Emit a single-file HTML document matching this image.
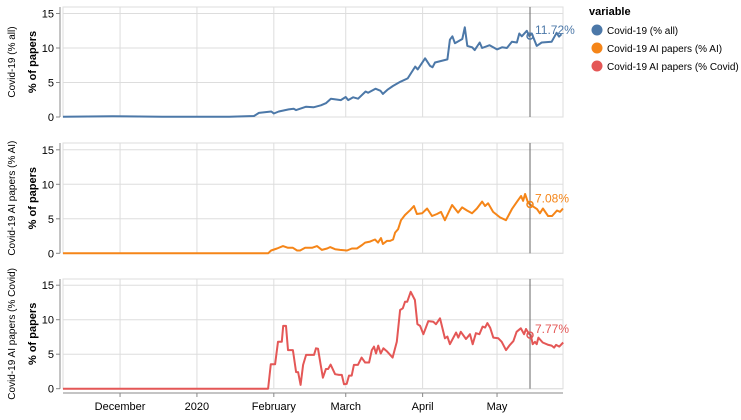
<!DOCTYPE html>
<html><head><meta charset="utf-8"><style>
body{margin:0;background:#fff;font-family:"Liberation Sans",sans-serif;}
svg text{font-family:"Liberation Sans",sans-serif;}
</style></head><body>
<svg id="chart" width="741" height="415"></svg>
<script>
// days since 2019-11-08
const blueDays=[0,20,40,67,77,79,84,85,87,91,93,94,98,101,104,106,108,112,114,115,117,119,122,123,126,128,129,131,133,136,139,142,143,146,148,149,150,155,156,157,158,161,162,163,165,166,168,169,172,175,177,179,181,183,184,185,187,188,189,191,193,197,199,200,201];
const blueVals=[0.05,0.1,0.05,0.05,0.15,0.6,0.8,0.5,0.8,1.1,1.2,1.0,1.5,1.4,1.7,2.0,2.65,2.45,2.9,2.45,2.85,2.65,3.7,3.5,4.1,3.8,3.35,4.0,4.5,5.1,5.6,7.3,6.9,8.5,7.4,7.2,7.9,8.35,11.2,11.7,10.7,11.3,13.0,10.3,10.1,9.7,10.8,10.0,10.4,9.8,10.1,10.0,10.9,10.8,12.1,11.7,12.5,11.72,12.1,10.3,10.8,10.9,12.2,11.65,12.0];
const orangeDays=[0,82.7,83.9,86.3,88.7,90.7,92.7,94.4,95.6,97.6,100.4,102.4,104.4,106.5,107.7,109.7,111.7,114.5,116.5,118.5,120.6,121.8,123.8,125.8,127,128.2,129,130.6,131.9,133.1,133.9,135.1,136.3,137.9,140.1,141.5,142.7,144.8,146.8,148.8,150.8,152.4,154,156.9,159.3,160.9,162.9,164.9,166.9,169,170.2,171.4,173.4,176.2,178.6,181,183.1,184.7,185.5,186.3,187.5,188.3,191.1,192.3,193.5,195.6,197.2,199.2,200.4,201.6];
const orangeVals=[0,0,0.4,0.7,1.05,0.8,0.8,0.4,0.4,0.8,0.8,1.05,0.5,0.7,0.9,0.6,0.5,0.4,0.7,0.7,1.2,1.55,1.7,2.0,1.55,2.2,1.35,1.8,1.8,2.0,3.0,3.5,4.8,5.55,6.3,6.85,5.7,5.8,6.5,5.4,5.7,6.0,4.8,7.0,5.9,6.65,6.2,5.8,6.5,7.5,6.85,7.25,6.0,5.2,4.8,6.4,7.5,8.3,7.6,8.6,7.35,7.08,6.4,5.8,6.5,5.4,5.4,6.2,6.0,6.5];
const redDays=[0,82.7,83.8,85.5,86.7,88.2,88.8,89.9,90.7,92.7,94,94.8,95.8,96.8,98,100.4,101.2,102,102.8,103.9,104.8,106,106.9,107.9,109.7,111.3,112.4,113.3,114.4,115.3,116.4,117.3,118.9,120.4,121.8,123.4,124.5,125.4,126.2,127.1,128.1,129.2,130.5,132.9,134.6,135.9,137,137.9,138.8,140.2,141.9,142.9,144,145.3,147.3,149.3,150.4,152,154,155,156,158.5,159.4,160.4,162.5,164.1,165.2,166.5,167.9,169.2,170.2,171.1,172.2,173.5,175.5,176.9,178.6,180.2,181.6,182.9,184.6,185.9,186.7,188,188.6,189.4,190.3,191,191.7,193.4,195.7,197,198,198.8,200.1,201.7];
const redVals=[0,0,3.55,3.55,6.8,6.8,9.1,9.1,5.6,5.6,2.4,2.4,0.55,3.45,4.9,4.9,4.9,5.85,5.8,3.45,1.6,2.85,2.85,3.5,2.1,2.0,2.0,0.65,0.7,1.9,1.9,3.45,3.45,4.5,3.8,3.8,5.6,6.1,5.1,6.25,5.1,5.85,5.45,4.5,6.8,11.4,11.65,12.6,12.6,14.05,12.85,9.35,9.1,7.9,9.8,9.7,9.35,10.2,7.3,7.55,6.45,8.15,7.4,8.25,7.2,7.9,6.45,8.05,7.9,9.0,8.85,9.5,8.85,7.4,7.3,6.8,5.6,6.35,6.9,8.25,8.75,7.9,8.65,7.9,7.77,6.45,6.8,6.45,7.4,6.7,6.35,6.25,5.95,6.35,6.1,6.7];
const ruleDay=188.3;
const labels=["11.72%","7.08%","7.77%"];
const ruleVals=[11.72,7.08,7.77];
const yTicks=[0,5,10,15];
const xTickDays=[23,54,85,114,145,175];
const xTickLabels=["December","2020","February","March","April","May"];
const panelTitles=["Covid-19 (% all)","Covid-19 AI papers (% AI)","Covid-19 AI papers (% Covid)"];
const legendLabels=["Covid-19 (% all)","Covid-19 AI papers (% AI)","Covid-19 AI papers (% Covid)"];
const colors=["#4c78a8","#f58518","#e45756"];

const svg=document.getElementById('chart');
const NS='http://www.w3.org/2000/svg';
function mk(tag,attrs,parent){const e=document.createElementNS(NS,tag);for(const k in attrs)e.setAttribute(k,attrs[k]);(parent||svg).appendChild(e);return e;}
const X0=63,X1=563,D0=0,D1=201.6;
const x=d=>X0+(d-D0)/(D1-D0)*(X1-X0);
const panelTops=[7,143,279];
const zeroYs=[117,253.3,388.7];
const pxPerUnit=6.9;
const series=[[blueDays,blueVals],[orangeDays,orangeVals],[redDays,redVals]];

for(let p=0;p<3;p++){
  const top=panelTops[p],y0=zeroYs[p];
  const y=v=>y0-v*pxPerUnit;
  const g=mk('g',{});
  
  
  // frame
  const fr=mk('rect',{x:X0,y:top,width:X1-X0,height:y0-top,fill:'none',stroke:'#ddd'},g);
  
  
  // y grid + ticks
  yTicks.forEach(t=>{
    const gl=mk('line',{x1:X0,x2:X1,y1:y(t),y2:y(t),stroke:'#ddd'},g);
    
    
    mk('line',{x1:56,x2:60,y1:y(t),y2:y(t),stroke:'#888'},g);
    const tl=mk('text',{x:54,y:y(t)+4,'text-anchor':'end','font-size':11,fill:'#000'},g);
    tl.textContent=t;
    
    
  });
  // x grid
  xTickDays.forEach(d=>{
    const gl=mk('line',{x1:x(d),x2:x(d),y1:top,y2:y0,stroke:'#ddd'},g);
    
    
  });
  const ax=mk('line',{x1:60,x2:60,y1:top,y2:y0,stroke:'#888'},g);
  
  
  const mid=(top+y0)/2;
  const t1=mk('text',{transform:`translate(15,${mid}) rotate(-90)`,'text-anchor':'middle','font-size':10,fill:'#000'},g);
  t1.textContent=panelTitles[p];
  
  
  const t2=mk('text',{transform:`translate(36,${mid}) rotate(-90)`,'text-anchor':'middle','font-size':11,'font-weight':'bold',fill:'#000'},g);
  t2.textContent='% of papers';
  
  
  // line
  const [ds,vs]=series[p];
  const pts=ds.map((d,i)=>x(d).toFixed(1)+','+y(vs[i]).toFixed(1)).join(' ');
  const pl=mk('polyline',{points:pts,fill:'none',stroke:colors[p],'stroke-width':2,'stroke-linejoin':'round'},g);
  
  
  // rule
  const r=mk('line',{x1:x(ruleDay),x2:x(ruleDay),y1:top,y2:y0,stroke:'#666','stroke-width':1},g);
  
  
  const c=mk('circle',{cx:x(ruleDay),cy:y(ruleVals[p]),r:3,fill:'none',stroke:colors[p],'stroke-width':1.5},g);
  
  
  const lb=mk('text',{x:x(ruleDay)+5,y:y(ruleVals[p])-2,'font-size':12,fill:colors[p]},g);
  lb.textContent=labels[p];
  
  
}
// x axis
const xa=mk('line',{x1:X0,x2:X1,y1:393,y2:393,stroke:'#888'});


xTickDays.forEach((d,i)=>{
  mk('line',{x1:x(d),x2:x(d),y1:393,y2:397,stroke:'#888'});
  const t=mk('text',{x:x(d),y:410,'text-anchor':'middle','font-size':11,fill:'#000'});
  t.textContent=xTickLabels[i];
  
  
});
// legend
const lt=mk('text',{x:589,y:15,'font-size':11,'font-weight':'bold',fill:'#000'});
lt.textContent='variable';


legendLabels.forEach((l,i)=>{
  const g=mk('g',{});
  
  
  mk('circle',{cx:597,cy:30+i*18,r:5.5,fill:colors[i]},g);
  const t=mk('text',{x:607,y:34+i*18,'font-size':10,fill:'#000'},g);
  t.textContent=l;
});
</script>
</body></html>
